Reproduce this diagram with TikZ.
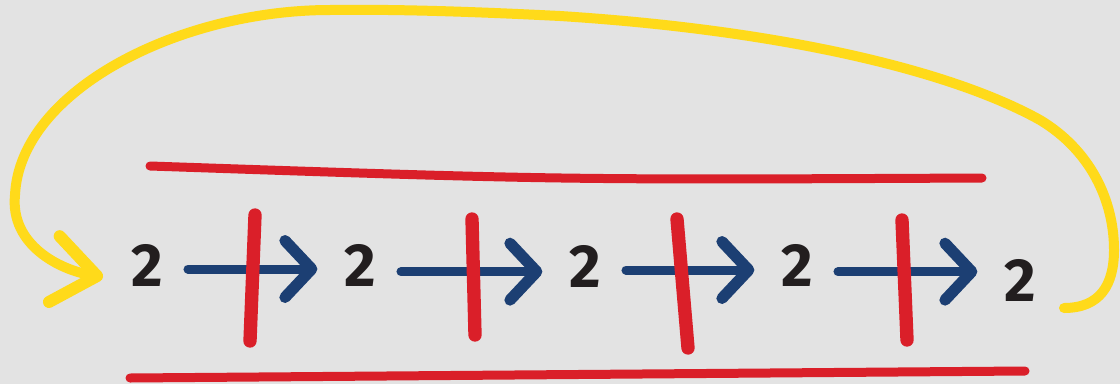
\documentclass[tikz,border=0pt]{standalone}
\usepackage{fontspec}
\setsansfont{Fira Sans}
\usepackage{xcolor}
\usepackage{tikz}
\usetikzlibrary{arrows.meta,calc,positioning}
\definecolor{colorBG}{HTML}{E3E3E3}
\definecolor{colorCUT}{HTML}{DA1F29}
\definecolor{colorNXT}{HTML}{1C3F73}
\definecolor{colorWRAP}{HTML}{FFDA1A}
\definecolor{colorDIG}{HTML}{221E1F}
\tikzset{
   digit/.style={text=colorDIG,font=\sffamily\bfseries\fontsize{52}{52}\selectfont,inner sep=0pt},
   nxt/.style={-{Straight Barb[length=8mm,width=17mm,line width=3.4mm,round]},draw=colorNXT,line width=2.7mm,line cap=round,shorten <=7.5mm,shorten >=8mm},
   cutbar/.style={draw=colorCUT,line width=4mm,line cap=round},
   rail/.style={draw=colorCUT,line width=2.7mm,line cap=round},
   wrap/.style={-{Straight Barb[length=13mm,width=20mm,line width=3.6mm,round]},draw=colorWRAP,line width=3mm,line cap=round,line join=round},
}

\begin{document}
\begin{tikzpicture}[x=0.3mm,y=-0.3mm]
\fill[colorBG] (0,0) rectangle (1120,384);

\node[digit] (d1) at (147,265) {2};
\node[digit] (d2) at (360,265) {2};
\node[digit] (d3) at (585,266) {2};
\node[digit] (d4) at (797,265) {2};
\node[digit] (d5) at (1020,280) {2};

\draw[wrap] ([shift={(28,28)}]d5.east) .. controls (1100,308) and (1114,285) .. (1114,250)
   .. controls (1114,200) and (1090,150) .. (1040,120)
   .. controls (950,70) and (780,30) .. (560,16)
   .. controls (480,12) and (400,9) .. (330,10)
   .. controls (180,10) and (20,90) .. (15,195)
   .. controls (10,245) and (60,270) .. ([shift={(-28,12)}]d1.west);

\draw[rail] (150,166) .. controls (560,180) .. (982,178);
\draw[rail] (130,378) -- (1025,371);

\draw[nxt] ([yshift=-1.2mm]d1.east) -- ([yshift=-1.2mm]d1.east -| d2.west);
\draw[nxt] ([yshift=-2mm]d2.east) -- ([yshift=-2mm]d2.east -| d3.west);
\draw[nxt] ([yshift=-1.2mm]d3.east) -- ([yshift=-1.2mm]d3.east -| d4.west);
\draw[nxt] ([yshift=-2mm]d4.east) -- ([yshift=-2mm]d4.east -| d5.west);

\draw[cutbar] (255,215) -- (250,341);
\draw[cutbar] (472,219) -- (475,335);
\draw[cutbar] (677,219) -- (688,348);
\draw[cutbar] (902,220) -- (907,340);
\end{tikzpicture}
\end{document}
